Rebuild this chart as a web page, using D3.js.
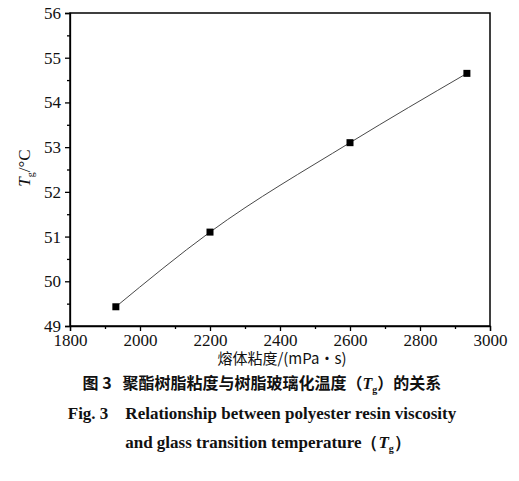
<!DOCTYPE html>
<html><head><meta charset="utf-8">
<script src="https://cdn.jsdelivr.net/npm/d3@7"></script>
<style>body{margin:0;background:#fff}text{fill:#111}</style>
</head><body>
<script>
// 数据
const viscosity = [1931, 2200, 2600, 2934];
const tg = [49.43, 51.1, 53.1, 54.65];
const xTicks = [1800, 2000, 2200, 2400, 2600, 2800, 3000];
const yTicks = [49, 50, 51, 52, 53, 54, 55, 56];

const W = 519, H = 481;
const m = {l: 70, r: 29, t: 13, b: 155};
const svg = d3.select('body').append('svg').attr('width', W).attr('height', H);
const x = d3.scaleLinear().domain([1800, 3000]).range([m.l, W - m.r]);
const y = d3.scaleLinear().domain([49, 56]).range([H - m.b, m.t]);
const serif = 'Liberation Serif, Times New Roman, serif';
const fmt = d3.format('d');

// 边框
svg.append('rect').attr('x', m.l).attr('y', m.t)
  .attr('width', W - m.r - m.l).attr('height', H - m.b - m.t)
  .attr('fill', 'none').attr('stroke', '#000').attr('stroke-width', 1.5);

const minorX = d3.range(1900, 3000, 200);
const minorY = d3.range(49.5, 56, 1);

svg.append('g').attr('transform', `translate(0,${H - m.b})`)
  .call(d3.axisBottom(x).tickValues(xTicks).tickSize(5).tickPadding(3).tickFormat(fmt));
svg.append('g').attr('transform', `translate(0,${H - m.b})`)
  .call(d3.axisBottom(x).tickValues(minorX).tickSize(3).tickFormat(''))
  .select('.domain').remove();
svg.append('g').attr('transform', `translate(${m.l},0)`)
  .call(d3.axisLeft(y).tickValues(yTicks).tickSize(5).tickPadding(4).tickFormat(fmt));
svg.append('g').attr('transform', `translate(${m.l},0)`)
  .call(d3.axisLeft(y).tickValues(minorY).tickSize(3).tickFormat(''))
  .select('.domain').remove();
svg.selectAll('.tick text').attr('font-family', serif).attr('font-size', 17);
svg.selectAll('.domain, .tick line').attr('stroke', '#000').attr('stroke-width', 1.3);

// 折线
const line = d3.line().x((d, i) => x(viscosity[i])).y(d => y(d)).curve(d3.curveMonotoneX);
svg.append('path').datum(tg).attr('d', line)
  .attr('fill', 'none').attr('stroke', '#333').attr('stroke-width', 0.9);
svg.selectAll('rect.pt').data(tg).enter().append('rect').attr('class', 'pt')
  .attr('x', (d, i) => x(viscosity[i]) - 3.5).attr('y', d => y(d) - 3.5)
  .attr('width', 7).attr('height', 7).attr('fill', '#000');

// 轴标题
svg.append('text').attr('x', 282).attr('y', 364).attr('text-anchor', 'middle')
  .attr('font-family', 'Noto Sans CJK SC').attr('font-size', 15)
  .text('熔体粘度/(mPa·s)');
const yl = svg.append('text').attr('transform', 'translate(30,168) rotate(-90)')
  .attr('text-anchor', 'middle').attr('font-family', serif).attr('font-size', 17);
yl.append('tspan').attr('font-style', 'italic').text('T');
yl.append('tspan').attr('font-size', 10).attr('dy', 4).text('g');
yl.append('tspan').attr('dy', -4).text('/°C');

// 图题
const c1 = svg.append('text').attr('x', 262).attr('y', 389).attr('text-anchor', 'middle')
  .attr('font-family', 'Noto Sans CJK SC').attr('font-weight', 'bold').attr('font-size', 16);
c1.append('tspan').text('图 3\u00a0\u00a0\u00a0聚酯树脂粘度与树脂玻璃化温度（');
c1.append('tspan').attr('font-family', serif).attr('font-style', 'italic').text('T');
c1.append('tspan').attr('font-family', serif).attr('font-size', 10).attr('dy', 4).text('g');
c1.append('tspan').attr('dy', -4).text('）的关系');
svg.append('text').attr('x', 262).attr('y', 419).attr('text-anchor', 'middle')
  .attr('font-family', serif).attr('font-weight', 'bold').attr('font-size', 17)
  .text('Fig. 3\u00a0\u00a0\u00a0\u00a0Relationship between polyester resin viscosity');
const c3 = svg.append('text').attr('x', 268).attr('y', 448).attr('text-anchor', 'middle')
  .attr('font-family', serif).attr('font-weight', 'bold').attr('font-size', 17);
c3.append('tspan').text('and glass transition temperature（');
c3.append('tspan').attr('font-style', 'italic').text('T');
c3.append('tspan').attr('font-size', 10).attr('dy', 4).text('g');
c3.append('tspan').attr('dy', -4).text('）');
</script>
</body></html>
